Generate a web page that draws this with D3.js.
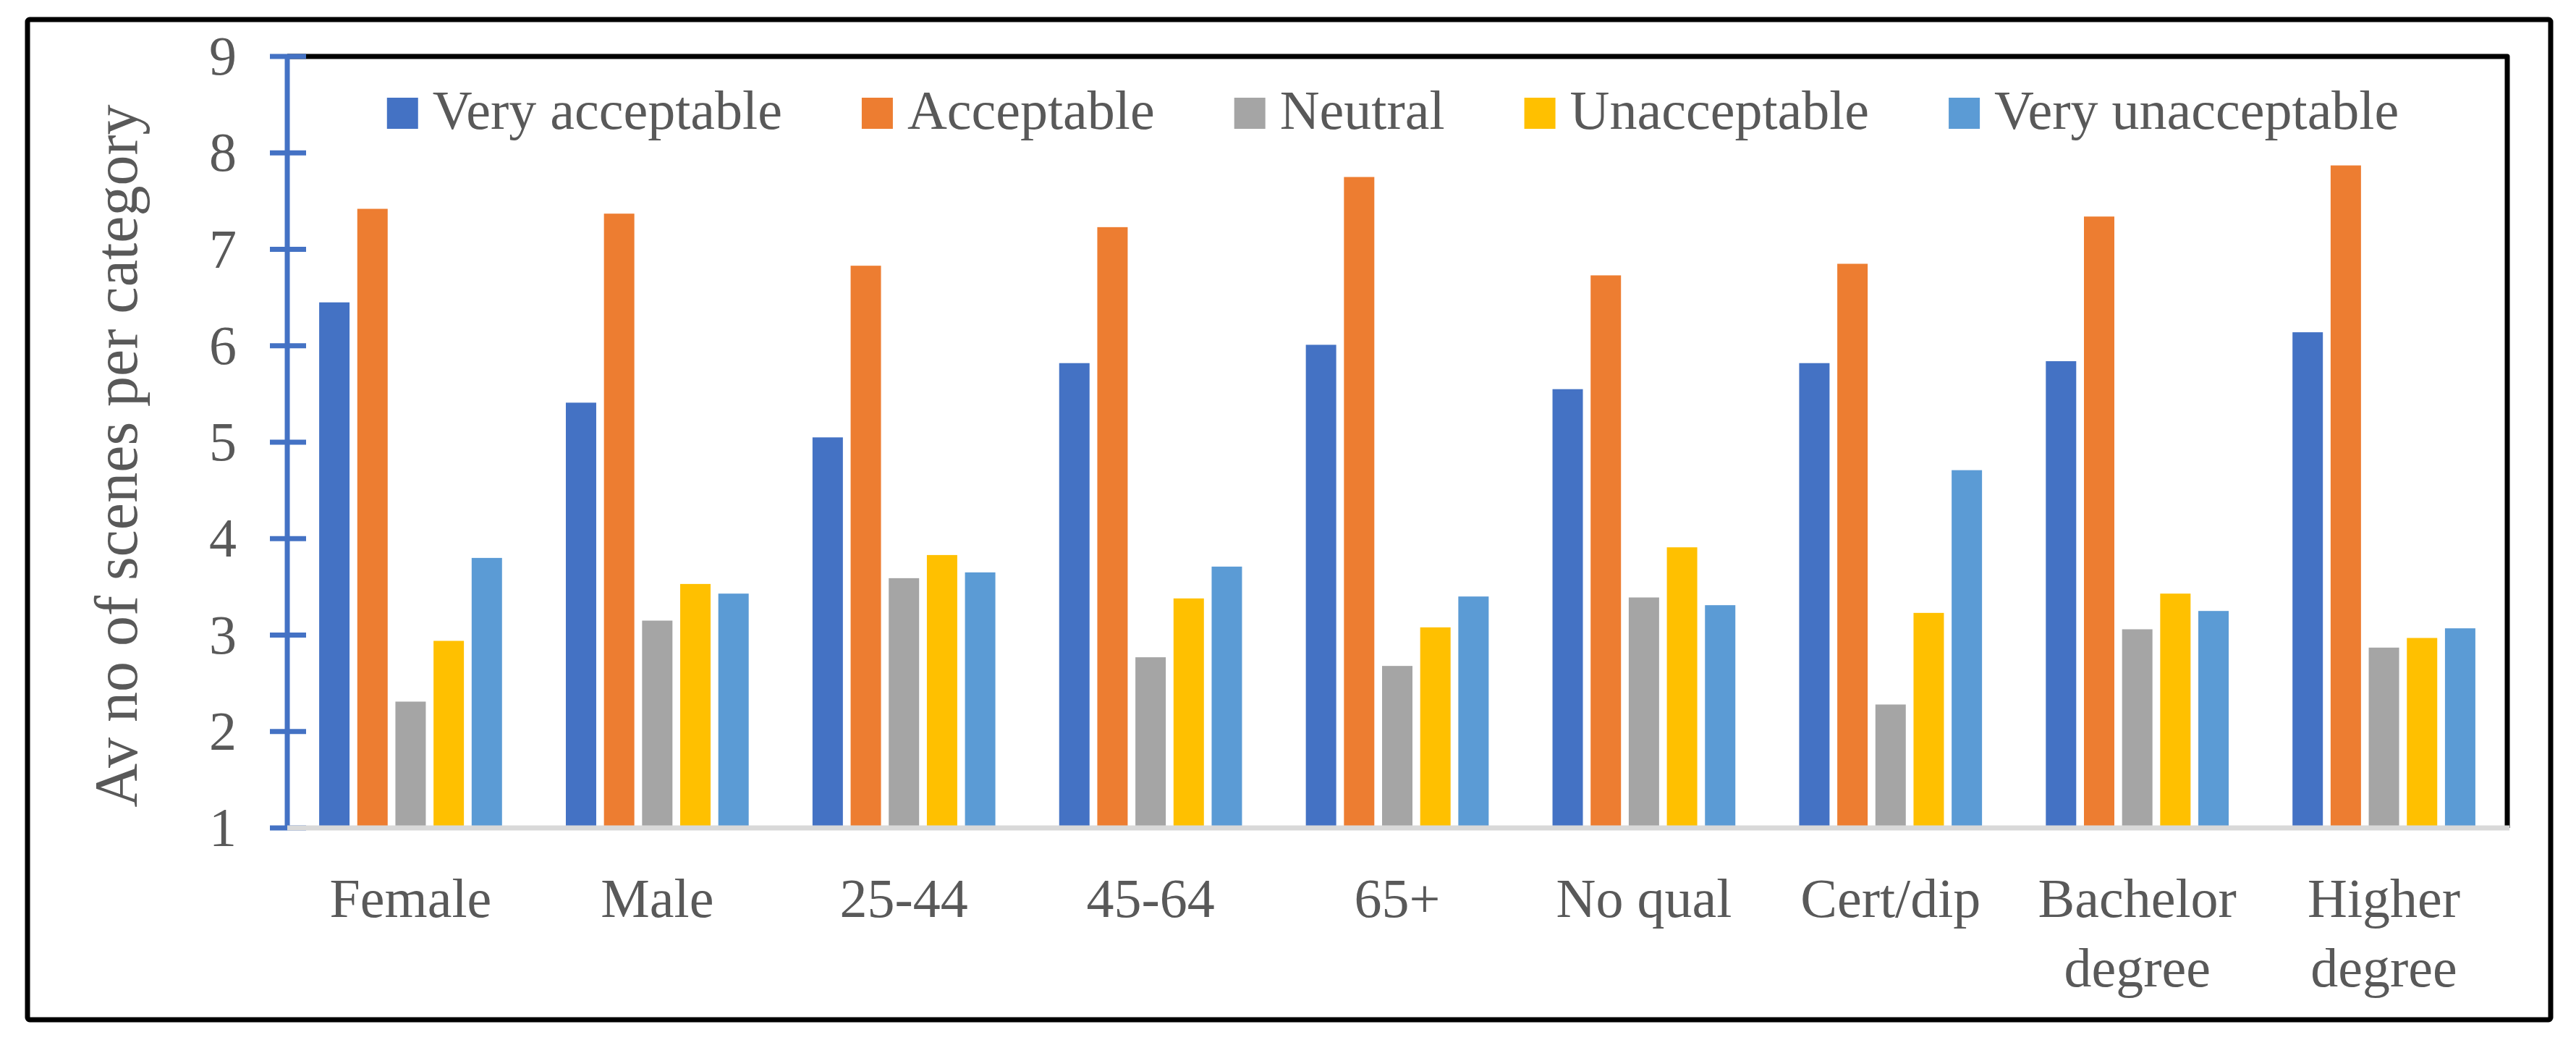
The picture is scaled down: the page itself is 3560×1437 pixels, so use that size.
<!DOCTYPE html>
<html>
<head>
<meta charset="utf-8">
<script src="https://cdn.jsdelivr.net/npm/d3@7"></script>
<style>
  html, body { margin: 0; padding: 0; background: #ffffff; }
  svg { display: block; }
</style>
</head>
<body>
<div id="chart"></div>
<script>
// ---------------- data ----------------
const categories = ["Female", "Male", "25-44", "45-64", "65+", "No qual", "Cert/dip", "Bachelor degree", "Higher degree"];
const categoryLines = [["Female"], ["Male"], ["25-44"], ["45-64"], ["65+"], ["No qual"], ["Cert/dip"], ["Bachelor", "degree"], ["Higher", "degree"]];
const seriesNames = ["Very acceptable", "Acceptable", "Neutral", "Unacceptable", "Very unacceptable"];
const veryAcceptable   = [6.45, 5.41, 5.05, 5.82, 6.01, 5.55, 5.82, 5.84, 6.14];
const acceptable       = [7.42, 7.37, 6.83, 7.23, 7.75, 6.73, 6.85, 7.34, 7.87];
const neutral          = [2.31, 3.15, 3.59, 2.77, 2.68, 3.39, 2.28, 3.06, 2.87];
const unacceptable     = [2.94, 3.53, 3.83, 3.38, 3.08, 3.91, 3.23, 3.43, 2.97];
const veryUnacceptable = [3.80, 3.43, 3.65, 3.71, 3.40, 3.31, 4.71, 3.25, 3.07];
const yTicks = [1, 2, 3, 4, 5, 6, 7, 8, 9];
const yTitle = "Av no of scenes per category";

const seriesValues = [veryAcceptable, acceptable, neutral, unacceptable, veryUnacceptable];
const colors = ["#4472C4", "#ED7D31", "#A5A5A5", "#FFC000", "#5B9BD5"];

// ---------------- layout ----------------
const W = 3560, H = 1437;
const plot = { left: 397, right: 3465, top: 78, bottom: 1144 };
const FONT = "'Palatino Linotype','Book Antiqua',Palatino,'Liberation Serif',serif";
const TEXT = "#595959";

const svg = d3.select("#chart").append("svg")
  .attr("width", W).attr("height", H)
  .attr("viewBox", `0 0 ${W} ${H}`);

svg.append("rect").attr("width", W).attr("height", H).attr("fill", "#fff");

// outer chart border
svg.append("rect")
  .attr("x", 38).attr("y", 27)
  .attr("width", 3487).attr("height", 1382)
  .attr("rx", 3)
  .attr("fill", "none").attr("stroke", "#000").attr("stroke-width", 7);

// scales
const x0 = d3.scaleBand().domain(categories).range([plot.left, plot.right]).padding(0);
const x1 = d3.scaleBand().domain(seriesNames).range([0, x0.bandwidth()])
  .paddingInner(0.203).paddingOuter(0.837);
const y = d3.scaleLinear().domain([1, 9]).range([plot.bottom, plot.top]);

// plot area border (top + right black)
svg.append("path")
  .attr("d", `M${plot.left},${y(9)} H${plot.right} V${y(1)}`)
  .attr("fill", "none").attr("stroke", "#000").attr("stroke-width", 7)
  .attr("stroke-linejoin", "round");

// bars
const groups = svg.append("g").selectAll("g")
  .data(categories)
  .join("g")
  .attr("transform", d => `translate(${x0(d)},0)`);

groups.selectAll("rect")
  .data((d, i) => seriesNames.map((s, j) => ({ s, v: seriesValues[j][i], c: colors[j] })))
  .join("rect")
  .attr("x", d => x1(d.s))
  .attr("width", x1.bandwidth())
  .attr("y", d => y(d.v))
  .attr("height", d => y(1) - y(d.v))
  .attr("fill", d => d.c);

// y axis (blue)
const yAxis = svg.append("g");
yAxis.append("line")
  .attr("x1", plot.left).attr("x2", plot.left)
  .attr("y1", y(9)).attr("y2", y(1))
  .attr("stroke", "#4472C4").attr("stroke-width", 7);
yAxis.selectAll("line.tick")
  .data(yTicks)
  .join("line")
  .attr("class", "tick")
  .attr("x1", plot.left - 24).attr("x2", plot.left + 26)
  .attr("y1", d => y(d)).attr("y2", d => y(d))
  .attr("stroke", "#4472C4").attr("stroke-width", 7);
yAxis.selectAll("text")
  .data(yTicks)
  .join("text")
  .attr("x", 327)
  .attr("y", d => y(d) + 25)
  .attr("text-anchor", "end")
  .attr("font-family", FONT).attr("font-size", 76).attr("fill", TEXT)
  .text(d => d);

// x axis (light gray)
svg.append("line")
  .attr("x1", plot.left).attr("x2", plot.right + 3)
  .attr("y1", y(1)).attr("y2", y(1))
  .attr("stroke", "#D9D9D9").attr("stroke-width", 7);

// category labels
const xl = svg.append("g").selectAll("text")
  .data(categories)
  .join("text")
  .attr("x", d => x0(d) + x0.bandwidth() / 2)
  .attr("y", 1267)
  .attr("text-anchor", "middle")
  .attr("font-family", FONT).attr("font-size", 76).attr("fill", TEXT);
xl.selectAll("tspan")
  .data((d, i) => categoryLines[i].map((t, k) => ({ t, k, cx: x0(d) + x0.bandwidth() / 2 })))
  .join("tspan")
  .attr("x", d => d.cx)
  .attr("dy", d => d.k === 0 ? 0 : 96)
  .text(d => d.t);

// y title
svg.append("text")
  .attr("transform", `translate(189,630) rotate(-90)`)
  .attr("text-anchor", "middle")
  .attr("font-family", FONT).attr("font-size", 84).attr("fill", TEXT)
  .text(yTitle);

// legend
const legend = svg.append("g");
const items = legend.selectAll("g")
  .data(seriesNames)
  .join("g");
items.append("rect")
  .attr("width", 43).attr("height", 43)
  .attr("y", 135)
  .attr("fill", (d, i) => colors[i]);
items.append("text")
  .attr("y", 178)
  .attr("font-family", FONT).attr("font-size", 76).attr("fill", TEXT)
  .text(d => d);
let widths = [];
items.each(function () {
  widths.push(d3.select(this).select("text").node().getComputedTextLength());
});
const sq = 43, gapText = 20, gapItem = 110;
const total = d3.sum(widths) + seriesNames.length * (sq + gapText) + (seriesNames.length - 1) * gapItem;
let cursor = 1925 - total / 2;
items.each(function (d, i) {
  const g = d3.select(this);
  g.select("rect").attr("x", cursor);
  g.select("text").attr("x", cursor + sq + gapText);
  cursor += sq + gapText + widths[i] + gapItem;
});
</script>
</body>
</html>
